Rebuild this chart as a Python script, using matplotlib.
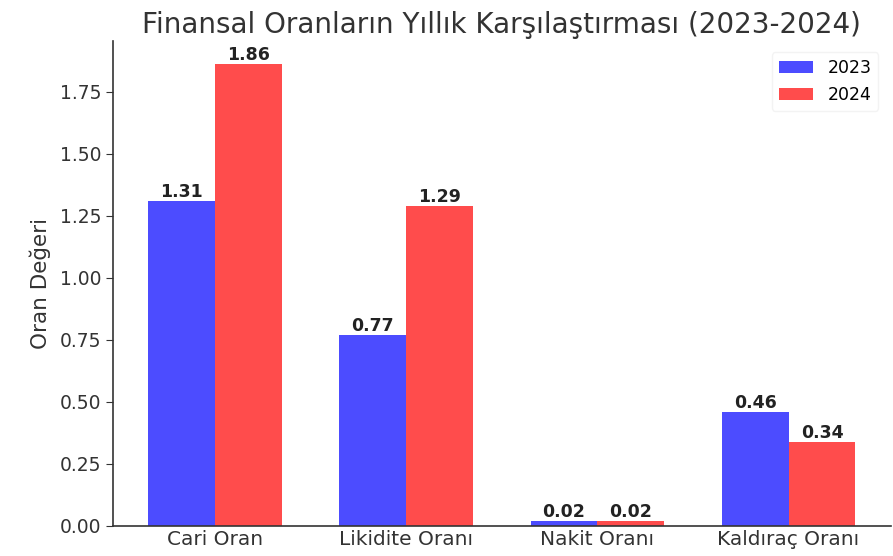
import numpy as np
import matplotlib
matplotlib.use("Agg")
import matplotlib.pyplot as plt

# Data
categories = ["Cari Oran", "Likidite Oranı", "Nakit Oranı", "Kaldıraç Oranı"]
values_2023 = [1.31, 0.77, 0.02, 0.46]
values_2024 = [1.86, 1.29, 0.02, 0.34]
years = ["2023", "2024"]

x = np.arange(len(categories))
width = 0.35

fig = plt.figure(figsize=(8.93, 5.56), dpi=100)
ax = fig.add_axes([0.1265, 0.054, 0.871, 0.872])

b1 = ax.bar(x - width/2, values_2023, width, color="blue", alpha=0.7, label=years[0])
b2 = ax.bar(x + width/2, values_2024, width, color="red", alpha=0.7, label=years[1])

# Value labels on top of the bars
for bars in (b1, b2):
    for bar in bars:
        h = bar.get_height()
        ax.text(bar.get_x() + bar.get_width()/2, h, "%.2f" % h,
                ha="center", va="bottom", fontsize=12.5, fontweight="bold", color="#222222")

ax.set_xticks(x)
ax.set_xticklabels(categories, fontsize=14.5, color="#333333")
ax.tick_params(axis="x", length=0, pad=3)
ax.tick_params(axis="y", labelsize=13.5, labelcolor="#333333", color="#333333", length=5)
ax.set_ylabel("Oran Değeri", fontsize=15.5, color="#333333", labelpad=6)
ax.set_title("Finansal Oranların Yıllık Karşılaştırması (2023-2024)", fontsize=20, color="#333333", pad=6)

for s in ["top", "right"]:
    ax.spines[s].set_visible(False)
for s in ["left", "bottom"]:
    ax.spines[s].set_color("#333333")
    ax.spines[s].set_linewidth(1.2)

ax.legend(loc="upper right", fontsize=12.5, frameon=True, edgecolor="#f0f0f0",
          bbox_to_anchor=(0.995, 0.995))

fig.savefig("out.png", dpi=100)
